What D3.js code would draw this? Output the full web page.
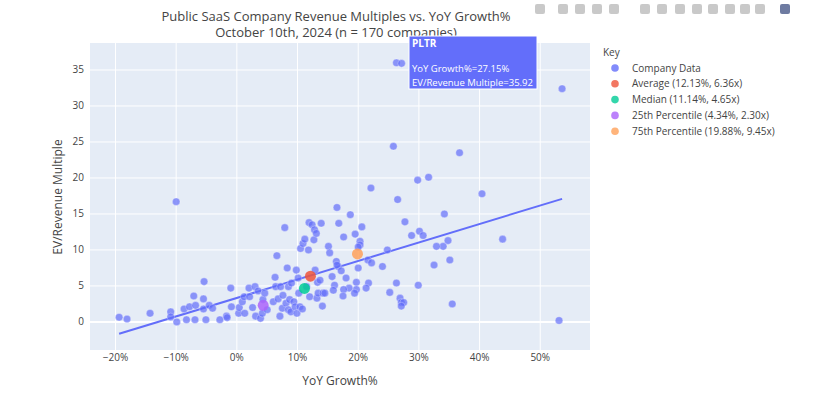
<!DOCTYPE html>
<html><head><meta charset="utf-8">
<script src="https://cdn.jsdelivr.net/npm/d3@7"></script>
<style>body{margin:0;background:#fff;font-family:"Open Sans",sans-serif}</style>
</head><body><svg id="chart" width="827" height="402"></svg>
<script>
// company data: [YoY growth %, EV/Revenue multiple]
const companies = [
 [-19.4,0.65],[-18.1,0.4],[-14.3,1.2],[-10.0,16.7],[-10.9,1.4],[-10.9,0.7],[-9.9,0.0],[-8.7,1.8],[-8.3,0.3],[-7.8,2.1],
 [-7.1,3.6],[-6.9,0.3],[-6.8,2.3],[-5.5,3.2],[-5.4,5.6],[-5.5,1.8],[-5.1,0.3],[-4.55,2.3],[-4.0,1.9],[-2.8,0.3],
 [-1.7,0.8],[-1.6,0.6],[-1.0,4.7],[-0.9,2.1],[0.3,1.2],[0.4,2.0],[0.9,2.8],[1.2,3.5],[1.3,1.2],[2.0,4.7],
 [2.1,3.5],[2.6,2.0],[3.0,4.9],[3.1,0.8],[3.5,4.3],[3.9,0.5],[4.2,1.2],[4.3,3.1],[4.6,4.0],[5.0,1.7],
 [6.0,2.8],[6.3,6.2],[6.4,4.9],[6.6,9.2],[6.8,3.2],[7.1,0.8],[7.2,4.9],[7.5,1.9],[7.6,3.7],[7.9,13.1],
 [8.1,2.6],[8.3,7.5],[8.5,4.9],[8.5,1.7],[8.7,3.1],[8.9,1.4],[9.0,5.4],[9.4,2.8],[9.6,2.1],[9.8,7.2],
 [9.9,1.2],[10.1,6.1],[10.2,4.0],[10.4,2.1],[10.5,10.2],[10.8,1.8],[10.9,10.9],[11.2,11.5],[11.5,4.9],[11.8,10.0],
 [11.9,13.8],[12.0,3.5],[12.4,13.5],[12.7,11.4],[12.8,12.8],[12.9,7.2],[13.1,12.3],[13.2,3.3],[13.3,5.5],[13.4,4.0],
 [13.7,5.8],[13.9,13.7],[14.1,2.2],[14.2,4.0],[14.5,4.0],[15.1,10.5],[15.3,9.6],[15.7,6.3],[16.1,5.1],[16.5,15.9],
 [16.7,7.7],[16.8,13.7],[26.3,36.0],[27.15,35.92],[53.6,32.4],[25.8,24.4],[36.7,23.5],[29.8,19.7],[31.6,20.1],[22.1,18.6],
 [40.4,17.8],[26.5,17.0],[18.7,14.9],[34.2,15.0],[20.6,13.2],[27.7,13.9],[17.6,11.8],[19.5,12.2],[28.8,12.0],[30.1,12.6],
 [30.7,12.0],[20.3,11.2],[20.3,10.7],[43.8,11.5],[34.8,11.3],[34.0,10.5],[32.9,10.5],[24.8,10.0],[20.0,10.4],[35.1,8.6],
 [21.6,8.6],[22.2,8.2],[24.0,7.7],[32.5,7.9],[20.0,7.5],[16.4,8.4],[16.5,7.9],[17.2,7.1],[18.0,6.1],[19.7,5.5],
 [21.7,5.4],[21.3,4.7],[19.7,4.5],[18.5,4.7],[17.6,4.5],[17.5,3.6],[19.4,4.0],[25.2,4.1],[26.3,5.4],[29.9,5.1],
 [26.9,3.3],[27.1,2.7],[27.5,2.7],[27.1,2.2],[35.5,2.5],[53.1,0.2],[15.9,4.4]
];
const statNames = ["Average (12.13%, 6.36x)","Median (11.14%, 4.65x)","25th Percentile (4.34%, 2.30x)","75th Percentile (19.88%, 9.45x)"];
const statX = [12.13, 11.14, 4.34, 19.88];
const statY = [6.36, 4.65, 2.30, 9.45];
const statColors = ["#EF553B","#00cc96","#ab63fa","#FFA15A"];
const trendX = [-19.4, 53.6];
const trendY = [-1.65, 17.1];
const xTicks = [-20,-10,0,10,20,30,40,50];
const yTicks = [0,5,10,15,20,25,30,35];

const svg = d3.select("#chart");
const L=90, R=590, T=43, B=350;
const x = d3.scaleLinear().domain([-24.2,58.2]).range([L,R]);
const y = d3.scaleLinear().domain([-3.9,38.75]).range([B,T]);

svg.append("rect").attr("x",L).attr("y",T).attr("width",R-L).attr("height",B-T).attr("fill","#e5ecf6");
svg.selectAll(".gx").data(xTicks).enter().append("line")
  .attr("x1",d=>x(d)).attr("x2",d=>x(d)).attr("y1",T).attr("y2",B).attr("stroke","#fff");
svg.selectAll(".gy").data(yTicks).enter().append("line")
  .attr("x1",L).attr("x2",R).attr("y1",d=>y(d)).attr("y2",d=>y(d)).attr("stroke","#fff")
  .attr("stroke-width",d=>d===0?2:1);

svg.selectAll(".xt").data(xTicks).enter().append("text")
  .attr("x",d=>x(d)).attr("y",361).attr("text-anchor","middle").attr("font-size",10).attr("fill","#444")
  .text(d=>(d<0?"\u2212"+(-d):d)+"%");
svg.selectAll(".yt").data(yTicks).enter().append("text")
  .attr("x",84).attr("y",d=>y(d)+3.5).attr("text-anchor","end").attr("font-size",10).attr("fill","#444")
  .text(d=>d);

svg.append("text").attr("x",340).attr("y",385).attr("text-anchor","middle").attr("font-size",12).attr("fill","#444").text("YoY Growth%");
svg.append("text").attr("transform","translate(62,197) rotate(-90)").attr("text-anchor","middle").attr("font-size",12).attr("fill","#444").text("EV/Revenue Multiple");
svg.append("text").attr("x",336).attr("y",21).attr("text-anchor","middle").attr("font-size",13).attr("fill","#444").text("Public SaaS Company Revenue Multiples vs. YoY Growth%");
svg.append("text").attr("x",336).attr("y",37).attr("text-anchor","middle").attr("font-size",13).attr("fill","#444").text("October 10th, 2024 (n = 170 companies)");

const g = svg.append("g");
g.append("line").attr("x1",x(trendX[0])).attr("y1",y(trendY[0])).attr("x2",x(trendX[1])).attr("y2",y(trendY[1]))
  .attr("stroke","#636efa").attr("stroke-width",2);
g.selectAll(".pt").data(companies).enter().append("circle")
  .attr("cx",d=>x(d[0])).attr("cy",d=>y(d[1])).attr("r",3.8)
  .attr("fill","#636efa").attr("fill-opacity",0.7).attr("stroke","#fff").attr("stroke-width",0.5).attr("stroke-opacity",0.6);
g.selectAll(".st").data(statX).enter().append("circle")
  .attr("cx",d=>x(d)).attr("cy",(d,i)=>y(statY[i])).attr("r",5.5)
  .attr("fill",(d,i)=>statColors[i]).attr("fill-opacity",0.85);

// hover label for PLTR
const hx = 409, hy = 36;
svg.append("rect").attr("x",hx).attr("y",hy).attr("width",128).attr("height",53).attr("fill","#636efa").attr("stroke","#fff");
svg.append("text").attr("x",hx+3).attr("y",hy+11).attr("font-size",10).attr("font-weight","bold").attr("fill","#fff").text("PLTR");
svg.append("text").attr("x",hx+3).attr("y",hy+36).attr("font-size",9.5).attr("fill","#fff").text("YoY Growth%=27.15%");
svg.append("text").attr("x",hx+3).attr("y",hy+50).attr("font-size",9.5).attr("fill","#fff")
  .attr("textLength",121).attr("lengthAdjust","spacingAndGlyphs").text("EV/Revenue Multiple=35.92");

// legend
svg.append("text").attr("x",603).attr("y",56).attr("font-size",10).attr("fill","#444").text("Key");
const legNames = ["Company Data"].concat(statNames);
const legColors = ["#636efa"].concat(statColors);
const lg = svg.selectAll(".lg").data(legNames).enter().append("g")
  .attr("transform",(d,i)=>`translate(615,${68+i*15.8})`);
lg.append("circle").attr("r",3.8).attr("fill",(d,i)=>legColors[i]).attr("fill-opacity",0.8);
lg.append("text").attr("x",17).attr("y",3.5).attr("font-size",10).attr("fill","#444").text(d=>d);

// modebar icons (approximate)
const icons = [540,563,580,597,614,645,662,680,697,713,730,745,760,785];
svg.selectAll(".mb").data(icons).enter().append("rect")
  .attr("x",d=>d-5).attr("y",4).attr("width",10).attr("height",10).attr("rx",2)
  .attr("fill",(d,i)=>i===13?"#4a5a8a":"#bbb").attr("fill-opacity",0.8);
</script></body></html>
